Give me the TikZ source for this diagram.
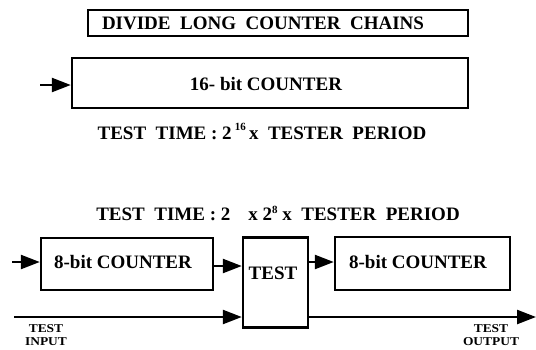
\documentclass[tikz,border=0pt]{standalone}
\usepackage{fontspec}
\setmainfont{Liberation Serif}
\usetikzlibrary{arrows.meta}
\begin{document}
\begin{tikzpicture}[x=1pt,y=-1pt,
  box/.style={draw, line width=2.4pt, inner sep=0pt},
  lbl/.style={font=\fontsize{19}{21}\selectfont\bfseries, inner sep=0pt},
  small/.style={font=\fontsize{12}{12.5}\selectfont\bfseries, inner sep=0pt, align=center},
  arr/.style={line width=2.4pt, -{Triangle[length=19pt,width=14pt]}}]
\useasboundingbox (0,0) rectangle (536,349);
% top
\node[box, minimum width=380pt, minimum height=26pt] (title) at (278,23) {};
\node[lbl] (titletxt) at (263,23) {DIVIDE\ \ LONG\ \ COUNTER\ \ CHAINS};
\node[box, minimum width=396pt, minimum height=50pt] (c16) at (270,83) {};
\node[lbl] (c16txt) at (266,84) {16- bit COUNTER};
\coordinate (in16) at (40,85);
\draw[arr] (in16) -- (in16 -| c16.west);
\node[lbl] (time1) at (262,131) {TEST\ \ TIME : 2\,\raisebox{9pt}{\fontsize{11}{11}\selectfont 16}\,x\ \ TESTER\ \ PERIOD};
% bottom
\node[lbl] (time2) at (278,213) {TEST\ \ TIME : 2\hspace{18pt}x 2\raisebox{7pt}{\fontsize{11}{11}\selectfont 8} x\ \ TESTER\ \ PERIOD};
\node[box, minimum width=172pt, minimum height=52pt] (c1) at (127,264) {};
\node[lbl] (c1txt) at (123,262) {8-bit COUNTER};
\node[box, minimum width=65pt, minimum height=90pt] (test) at (275.5,282.5) {};
\node[lbl] (testtxt) at (273,273) {TEST};
\node[box, minimum width=175pt, minimum height=53pt] (c2) at (422.5,263.5) {};
\node[lbl] (c2txt) at (418,262) {8-bit COUNTER};
\coordinate (in1) at (12,262);
\draw[arr] (in1) -- (in1 -| c1.west);
\coordinate (m1) at (213,266);
\draw[arr] (m1 -| c1.east) -- (m1 -| test.west);
\coordinate (m2) at (308,262);
\draw[arr] (m2 -| test.east) -- (m2 -| c2.west);
\coordinate (tin) at (14,317);
\draw[arr] (tin) -- (tin -| test.west);
\coordinate (tout) at (536,317);
\draw[arr] (tout -| test.east) -- (tout);
\node[small] (inlbl) at (46,335) {\scalebox{1.12}[1]{TEST}\\\scalebox{1.12}[1]{INPUT}};
\node[small] (outlbl) at (491,335) {\scalebox{1.12}[1]{TEST}\\\scalebox{1.12}[1]{OUTPUT}};
\end{tikzpicture}
\end{document}
